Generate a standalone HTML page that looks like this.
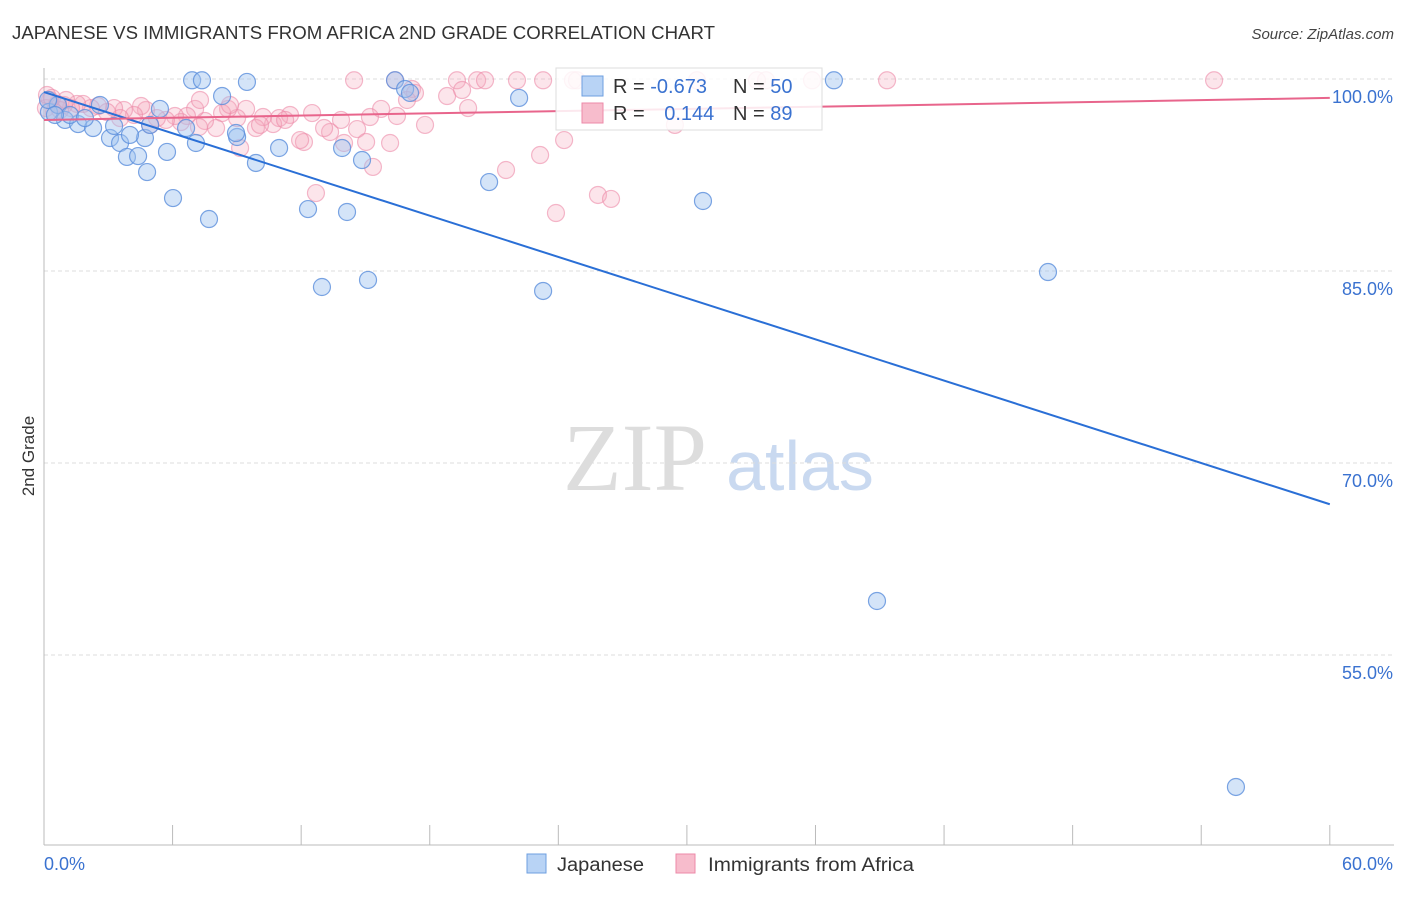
<!DOCTYPE html>
<html><head><meta charset="utf-8"><style>
body{margin:0;background:#fff;font-family:"Liberation Sans",sans-serif;}
</style></head><body>
<svg id="chart" width="1406" height="892" xmlns="http://www.w3.org/2000/svg" font-family="Liberation Sans, sans-serif">
<text x="12" y="39" font-size="18" fill="#333" textLength="703" lengthAdjust="spacingAndGlyphs">JAPANESE VS IMMIGRANTS FROM AFRICA 2ND GRADE CORRELATION CHART</text>
<text x="1394" y="39" font-size="15" fill="#444" text-anchor="end" font-style="italic">Source: ZipAtlas.com</text>
<text transform="translate(34,456) rotate(-90)" font-size="17" fill="#333" text-anchor="middle">2nd Grade</text>
<g><text x="635" y="490" font-size="96" fill="#ddd" text-anchor="middle" font-family="Liberation Serif, serif">ZIP</text><text x="800" y="490" font-size="70" fill="#c9d9f0" text-anchor="middle">atlas</text></g>
<g id="grid"></g><g id="axes"></g><g id="pts"></g><g id="lines"></g>
<g>
<rect x="556" y="68" width="266" height="62" fill="#fff" fill-opacity="0.85" stroke="#ddd"/>
<rect x="582" y="76" width="21" height="20" fill="#b8d3f5" stroke="#6e9fe0"/>
<rect x="582" y="103" width="21" height="20" fill="#f7bccc" stroke="#ec8aa8"/>
<text x="613" y="93" font-size="20" fill="#333">R = <tspan fill="#3a72d0">-0.673</tspan></text>
<text x="733" y="93" font-size="20" fill="#333">N = <tspan fill="#3a72d0">50</tspan></text>
<text x="613" y="120" font-size="20" fill="#333">R = <tspan fill="#3a72d0" dx="14">0.144</tspan></text>
<text x="733" y="120" font-size="20" fill="#333">N = <tspan fill="#3a72d0">89</tspan></text>
</g>
<g>
<rect x="527" y="854" width="19" height="19" fill="#b8d3f5" stroke="#6e9fe0"/>
<text x="557" y="871" font-size="19" fill="#333" textLength="87" lengthAdjust="spacingAndGlyphs">Japanese</text>
<rect x="676" y="854" width="19" height="19" fill="#f7bccc" stroke="#ec8aa8"/>
<text x="708" y="871" font-size="19" fill="#333" textLength="206" lengthAdjust="spacingAndGlyphs">Immigrants from Africa</text>
</g>
</svg>
<script>
const yTicks=[100,85,70,55];
const xTickLabels=["0.0%","60.0%"];
const japX=[6.91,7.37,9.47,16.38,36.86,8.31,5.41,16.85,22.17,17.08,2.61,0.23,0.98,1.59,2.29,3.08,3.55,3.87,4.39,4.71,5.74,4.81,6.02,6.63,7.09,7.70,9.01,8.96,9.89,10.97,12.32,12.97,13.91,14.14,14.84,15.12,20.77,23.29,30.75,46.85,38.87,55.62,3.27,0.65,0.19,1.21,1.91,0.51,4.95,4.01];
const japY=[99.9,99.9,99.77,99.9,99.9,98.67,97.66,99.22,98.52,98.91,97.97,97.42,96.8,96.48,96.17,95.39,95.0,93.91,93.98,95.39,94.3,92.73,90.7,96.17,95.0,89.06,95.47,95.78,93.44,94.61,89.84,83.75,94.61,89.61,93.67,84.3,91.95,83.44,90.47,84.92,59.22,44.69,96.33,97.97,98.36,97.19,96.95,97.19,96.41,95.63];
const afrX=[14.47,16.38,19.27,20.21,20.58,22.07,23.29,24.68,24.87,30.47,33.27,33.69,35.84,39.34,54.6,18.81,19.51,19.79,17.17,17.31,16.94,15.73,15.21,16.47,14.61,13.35,14.0,15.03,16.15,15.35,12.13,12.69,13.07,12.51,11.48,10.97,10.69,10.22,9.89,9.43,9.15,9.01,8.59,8.31,8.03,7.51,7.23,7.05,6.67,6.39,6.11,5.69,5.27,4.76,4.53,4.2,3.73,3.27,2.94,2.52,2.19,1.82,1.54,1.26,0.93,0.61,0.28,0.09,0.47,0.75,0.14,0.37,1.03,4.95,7.28,10.08,11.25,13.86,17.78,21.56,23.15,23.89,24.27,25.85,26.46,29.44,11.95,8.68,3.55];
const afrY=[99.9,99.9,99.9,99.9,99.9,99.9,99.9,99.9,99.9,99.9,99.9,99.9,99.9,99.9,99.9,98.67,99.14,97.73,99.22,98.91,98.36,97.66,97.03,97.11,96.09,95.86,95.0,95.08,95.0,93.13,95.08,91.09,96.17,97.34,97.19,96.95,96.48,97.03,96.17,97.66,94.61,96.95,97.66,97.34,96.17,96.72,96.25,97.66,97.11,96.64,97.11,96.8,96.95,97.58,97.89,97.19,97.58,97.73,97.42,97.89,97.73,98.05,98.05,97.73,97.97,98.05,98.36,97.73,97.42,97.58,98.75,98.52,98.36,96.41,98.36,96.41,96.8,96.8,96.41,92.89,94.06,89.53,95.23,90.94,90.63,96.41,95.23,97.97,96.95];
const japTrend=[98.98,-0.5367];
const afrTrend=[96.8,0.0287];
const NS='http://www.w3.org/2000/svg';
const sx=v=>44+v*21.43, sy=v=>79+(100-v)*12.8;
function mk(tag,attrs,parent){const e=document.createElementNS(NS,tag);for(const k in attrs)e.setAttribute(k,attrs[k]);document.getElementById(parent).appendChild(e);return e;}
yTicks.forEach(t=>{
 const g=mk('line',{x1:44,x2:1394,y1:sy(t),y2:sy(t),stroke:'#ddd','stroke-dasharray':'4,3'},'grid');
 
 
 const l=mk('text',{x:1393,y:sy(t)+24,'font-size':18,fill:'#3a72d0','text-anchor':'end'},'grid');
 l.textContent=t.toFixed(1)+'%';
 
 
});
const ax=mk('line',{x1:44,x2:44,y1:68,y2:845,stroke:'#bbb'},'axes');


const bx=mk('line',{x1:44,x2:1394,y1:845,y2:845,stroke:'#bbb'},'axes');


for(let i=0;i<=10;i++){const t=mk('line',{x1:sx(i*6),x2:sx(i*6),y1:825,y2:845,stroke:'#bbb'},'axes');
 
 }
[[0,'start',xTickLabels[0]],[60,'end',xTickLabels[1]]].forEach(([v,a,s])=>{
 const t=mk('text',{x:v===0?44:1393,y:870,'font-size':18,fill:'#3a72d0','text-anchor':a},'axes');t.textContent=s;
 
 
});
afrX.forEach((x,i)=>{const c=mk('circle',{cx:sx(x),cy:sy(afrY[i]),r:8.5,fill:'rgba(244,168,190,0.3)',stroke:'#ec8aa8','stroke-opacity':0.6,'stroke-width':1.2},'pts');
 
 });
japX.forEach((x,i)=>{const c=mk('circle',{cx:sx(x),cy:sy(japY[i]),r:8.5,fill:'rgba(160,196,240,0.45)',stroke:'#5b8fdc','stroke-opacity':0.8,'stroke-width':1.2},'pts');
 
 });
const l1=mk('line',{x1:sx(0),y1:sy(japTrend[0]),x2:sx(60),y2:sy(japTrend[0]+japTrend[1]*60),stroke:'#2a6fd6','stroke-width':2},'lines');


const l2=mk('line',{x1:sx(0),y1:sy(afrTrend[0]),x2:sx(60),y2:sy(afrTrend[0]+afrTrend[1]*60),stroke:'#e8658c','stroke-width':2},'lines');


</script>
</body></html>
